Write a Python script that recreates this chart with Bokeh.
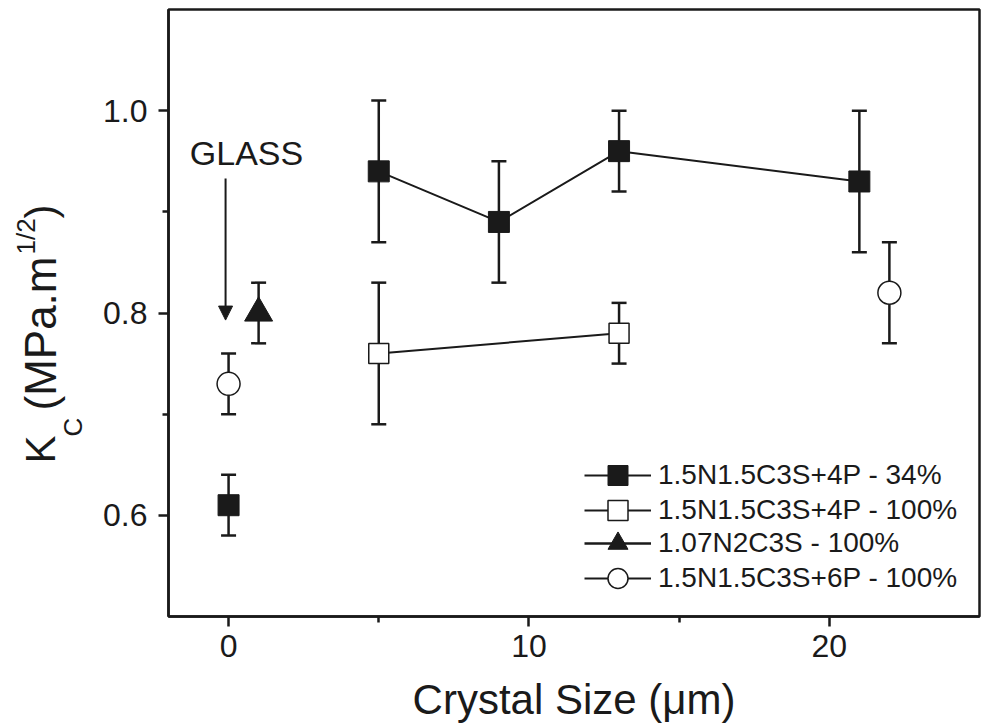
import numpy as np
from bokeh.plotting import figure
from bokeh.layouts import row
from bokeh.models import (ColumnDataSource, Whisker, TeeHead, Label, Legend, LegendItem,
                          FixedTicker, Arrow, NormalHead, Range1d, NumeralTickFormatter)
from bokeh.embed import file_html
from bokeh.resources import INLINE

# ---------------- data ----------------
s1_x = [0, 5, 9, 13, 21]
s1_y = [0.61, 0.94, 0.89, 0.96, 0.93]
s1_lo = [0.58, 0.87, 0.83, 0.92, 0.86]
s1_hi = [0.64, 1.01, 0.95, 1.00, 1.00]

s2_x = [5, 13]
s2_y = [0.76, 0.78]
s2_lo = [0.69, 0.75]
s2_hi = [0.83, 0.81]

s3_x = [1]
s3_y = [0.80]
s3_lo = [0.77]
s3_hi = [0.83]

s4_x = [0, 22]
s4_y = [0.73, 0.82]
s4_lo = [0.70, 0.77]
s4_hi = [0.76, 0.87]

series_names = ["1.5N1.5C3S+4P - 34%", "1.5N1.5C3S+4P - 100%",
                "1.07N2C3S - 100%", "1.5N1.5C3S+6P - 100%"]

x_ticks = [0, 10, 20]
x_minor = [5, 15]
y_ticks = [0.6, 0.8, 1.0]
y_minor = [0.7, 0.9]

x_title = "Crystal Size (μm)"
glass_text = "GLASS"
glass_pos = (-1.29, 0.958)
arrow_x = -0.1
arrow_y = (0.933, 0.793)

FONT = "Liberation Sans"
INK = "#1a1a1a"

LEFT_W = 100
TOTAL_W, TOTAL_H = 983, 725
BORDER_BOTTOM = 109

p = figure(width=TOTAL_W - LEFT_W, height=TOTAL_H,
           x_range=Range1d(-2, 25), y_range=Range1d(0.5, 1.1),
           output_backend="svg", toolbar_location=None,
           min_border_left=62, min_border_right=4, min_border_top=9,
           min_border_bottom=BORDER_BOTTOM)
p.xgrid.visible = False
p.ygrid.visible = False
p.outline_line_color = INK
p.outline_line_width = 2.5
p.outline_line_alpha = 1.0
p.background_fill_color = "white"
p.border_fill_color = "white"

p.xaxis.ticker = FixedTicker(ticks=x_ticks, minor_ticks=x_minor)
p.yaxis.ticker = FixedTicker(ticks=y_ticks, minor_ticks=y_minor)
p.yaxis.formatter = NumeralTickFormatter(format="0.0")
for ax in (p.xaxis, p.yaxis):
    ax.axis_line_width = 2.5
    ax.axis_line_color = INK
    ax.major_tick_line_width = 2.5
    ax.minor_tick_line_width = 2.5
    ax.major_tick_line_color = INK
    ax.minor_tick_line_color = INK
    ax.major_tick_in = 0
    ax.major_tick_out = 10
    ax.minor_tick_in = 0
    ax.minor_tick_out = 6
    ax.major_label_text_font_size = "32px"
    ax.major_label_text_font = FONT
    ax.major_label_text_color = INK
p.xaxis.major_label_standoff = 8
p.yaxis.major_label_standoff = 11
p.xaxis.axis_label = x_title
p.xaxis.axis_label_text_font_size = "42px"
p.xaxis.axis_label_text_font = FONT
p.xaxis.axis_label_text_font_style = "normal"
p.xaxis.axis_label_text_color = INK
p.xaxis.axis_label_standoff = 16


# error bars
def whisk(xs, lo, hi):
    src = ColumnDataSource(dict(x=xs, lo=lo, hi=hi))
    w = Whisker(base="x", upper="hi", lower="lo", source=src, dimension="height",
                line_width=2.5, line_color=INK, level="underlay",
                upper_head=TeeHead(size=15, line_width=2.5, line_color=INK),
                lower_head=TeeHead(size=15, line_width=2.5, line_color=INK))
    p.add_layout(w)


whisk(s1_x, s1_lo, s1_hi)
whisk(s2_x, s2_lo, s2_hi)
whisk(s3_x, s3_lo, s3_hi)
whisk(s4_x, s4_lo, s4_hi)

# connecting lines (single-point lines only serve as legend samples)
l1 = p.line(s1_x[1:], s1_y[1:], line_width=2, line_color=INK)
l2 = p.line(s2_x, s2_y, line_width=2, line_color=INK)
l3 = p.line(s3_x[:1], s3_y[:1], line_width=2.5, line_color=INK)
l4 = p.line(s4_x[:1], s4_y[:1], line_width=2, line_color=INK)

m1 = p.scatter(s1_x, s1_y, marker="square", size=21, fill_color=INK, line_color=INK)
m2 = p.scatter(s2_x, s2_y, marker="square", size=20, fill_color="white", line_color=INK, line_width=1.5)
m3 = p.scatter(s3_x, s3_y, marker="triangle", size=28, fill_color=INK, line_color=INK)
m4 = p.scatter(s4_x, s4_y, marker="circle", size=23, fill_color="white", line_color=INK, line_width=1.5)

# legends (one per row for exact placement)
rows = [(l1, m1), (l2, m2), (l3, m3), (l4, m4)]
row_bottoms = [116, 81, 48, 13]
for (ln, mk), name, yb in zip(rows, series_names, row_bottoms):
    leg = Legend(items=[LegendItem(label=name, renderers=[ln, mk])], location=(416, yb),
                 glyph_width=67, glyph_height=50, label_standoff=7, padding=0, margin=0,
                 spacing=0, border_line_color=None, background_fill_alpha=0,
                 label_text_font_size="28px", label_text_font=FONT, label_text_color=INK)
    p.add_layout(leg, "center")

# GLASS annotation
p.add_layout(Label(x=glass_pos[0], y=glass_pos[1], text=glass_text, text_font_size="34px",
                   text_font=FONT, text_color=INK, text_align="left", text_baseline="alphabetic"))
p.add_layout(Arrow(x_start=arrow_x, y_start=arrow_y[0], x_end=arrow_x, y_end=arrow_y[1],
                   line_width=2, line_color=INK,
                   end=NormalHead(size=14, fill_color=INK, line_color=INK, line_width=1)))

# ---- y title (left strip): K_C (MPa.m^1/2) ----
left = figure(width=LEFT_W, height=TOTAL_H, x_range=Range1d(0, 1), y_range=Range1d(0, 1),
              output_backend="svg", toolbar_location=None, min_border=0)
left.axis.visible = False
left.xgrid.visible = False
left.ygrid.visible = False
left.outline_line_color = None
left.background_fill_color = "white"
left.border_fill_color = "white"

# (text, font px, anchor x, start y measured from the top of the page)
ylab_parts = [
    ("K", 42, 40, 463),
    ("C", 26, 72, 436),
    ("(MPa.m", 44, 40, 410),
    ("1/2", 26, 25, 254),
    (")", 42, 40, 218),
]
frame_bottom = TOTAL_H - BORDER_BOTTOM   # the row aligns the strip's frame with the main frame
for txt, fs, ax_x, top_y in ylab_parts:
    left.add_layout(Label(x=ax_x, y=frame_bottom - top_y, x_units="screen", y_units="screen",
                          text=txt, angle=np.pi / 2, text_font_size=f"{fs}px", text_font=FONT,
                          text_color=INK, text_align="left", text_baseline="alphabetic"))

layout = row(left, p, spacing=0)
open("out.html", "w").write(file_html(layout, INLINE))
